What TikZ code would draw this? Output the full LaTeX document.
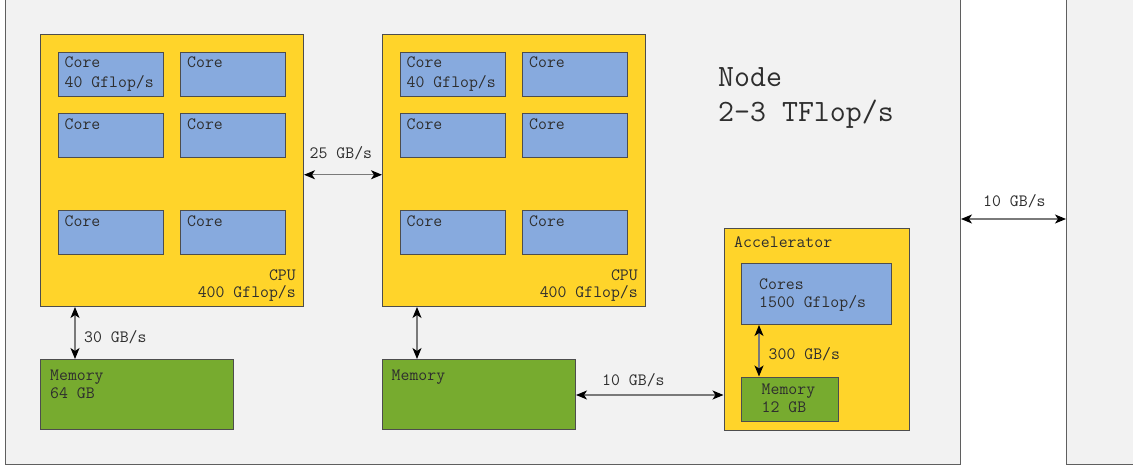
\documentclass[tikz,border=0pt]{standalone}
\usepackage{fontspec}
\usetikzlibrary{arrows.meta}
\definecolor{bgnode}{HTML}{F2F2F2}
\definecolor{cpuyel}{HTML}{FFD42A}
\definecolor{coreblue}{HTML}{87AADE}
\definecolor{memgreen}{HTML}{77AB2F}
\definecolor{txt}{HTML}{2E2E2E}
\definecolor{edge}{HTML}{4D4D4D}
\definecolor{arrline}{HTML}{7A7A7A}
\tikzset{
  box/.style={draw=edge, line width=1pt, anchor=north west, inner sep=0pt},
  nodebox/.style={box, fill=bgnode, draw=edge!90},
  cpubox/.style={box, fill=cpuyel},
  corebox/.style={box, fill=coreblue, minimum width=105pt, minimum height=44pt},
  membox/.style={box, fill=memgreen},
  lbl/.style={font=\ttfamily\fontsize{17.3}{19}\selectfont, text=txt, inner sep=0pt, align=left, anchor=base west},
  rlbl/.style={lbl, align=right, anchor=base east},
  biglbl/.style={font=\ttfamily\fontsize{31}{35}\selectfont, text=txt, inner sep=0pt, align=left, anchor=base west},
  link/.style={draw=arrline, line width=1.3pt, {Stealth[black,length=11pt,width=9pt,inset=3pt]}-{Stealth[black,length=11pt,width=9pt,inset=3pt]}}
}
\begin{document}
\begin{tikzpicture}[x=1pt,y=-1pt]
\useasboundingbox[fill=white] (0,0) rectangle (1133,468);
% compute nodes
\node[nodebox, minimum width=955pt, minimum height=464pt] (node1) at (5,-0.5) {};
\node[nodebox, minimum width=80pt, minimum height=464pt] (node2) at (1066,-0.5) {};
% CPUs
\node[cpubox, minimum width=263pt, minimum height=271.5pt] (cpu1) at (40,34.5) {};
\node[cpubox, minimum width=263pt, minimum height=271.5pt] (cpu2) at (382,34.5) {};
% cores CPU1
\node[corebox] (c11) at (57.5,52) {};
\node[corebox] (c12) at (180,52) {};
\node[corebox] (c13) at (57.5,113.5) {};
\node[corebox] (c14) at (180,113.5) {};
\node[corebox] (c15) at (57.5,210) {};
\node[corebox] (c16) at (180,210) {};
% cores CPU2
\node[corebox] (c21) at (399.5,52) {};
\node[corebox] (c22) at (522,52) {};
\node[corebox] (c23) at (399.5,113.5) {};
\node[corebox] (c24) at (522,113.5) {};
\node[corebox] (c25) at (399.5,210) {};
\node[corebox] (c26) at (522,210) {};
% core labels
\node[lbl] (t11) at (64.5,88) {Core\\[1pt]40 Gflop/s};
\node[lbl] (t12) at (187,68) {Core};
\node[lbl] (t13) at (64.5,129.5) {Core};
\node[lbl] (t14) at (187,129.5) {Core};
\node[lbl] (t15) at (64.5,226) {Core};
\node[lbl] (t16) at (187,226) {Core};
\node[lbl] (t21) at (406.5,88) {Core\\[1pt]40 Gflop/s};
\node[lbl] (t22) at (529,68) {Core};
\node[lbl] (t23) at (406.5,129.5) {Core};
\node[lbl] (t24) at (529,129.5) {Core};
\node[lbl] (t25) at (406.5,226) {Core};
\node[lbl] (t26) at (529,226) {Core};
\node[rlbl] (cpu1t) at (296,297) {CPU\\[-2pt]400 Gflop/s};
\node[rlbl] (cpu2t) at (638,297) {CPU\\[-2pt]400 Gflop/s};
% node label
\node[biglbl] (nodet) at (718,121.5) {Node\\2-3 TFlop/s};
% memories
\node[membox, minimum width=193pt, minimum height=70pt] (mem1) at (40,359) {};
\node[membox, minimum width=193pt, minimum height=70pt] (mem2) at (382,359) {};
\node[lbl] (mem1t) at (50,398) {Memory\\[-1pt]64 GB};
\node[lbl] (mem2t) at (391.5,380) {Memory};
% accelerator
\node[cpubox, minimum width=185pt, minimum height=201.5pt] (acc) at (723.5,228) {};
\node[lbl] (acct) at (734,247) {Accelerator};
\node[box, fill=coreblue, minimum width=149.5pt, minimum height=61.5pt] (acccores) at (741,262.5) {};
\node[lbl] (acccorest) at (759,307.5) {Cores\\[-1pt]1500 Gflop/s};
\node[membox, minimum width=97pt, minimum height=44pt] (accmem) at (741,376.5) {};
\node[lbl] (accmemt) at (761.5,412) {Memory\\[-1pt]12 GB};
% links
\draw[link] ([yshift=-4pt]cpu1.east) -- ([yshift=-4pt]cpu2.west);
\node[lbl] (l25) at (309.5,159) {25 GB/s};
\draw[link] ([xshift=35pt]cpu1.south west) -- ([xshift=35pt]mem1.north west);
\node[lbl] (l30) at (84,342.5) {30 GB/s};
\draw[link] ([xshift=35pt]cpu2.south west) -- ([xshift=35pt]mem2.north west);
\draw[link] ([yshift=35pt]mem2.south east) -- ([yshift=35pt]mem2.south east -| acc.west);
\node[lbl] (l10a) at (602,385) {10 GB/s};
\draw[link] ([xshift=18pt]acccores.south west) -- ([xshift=18pt]accmem.north west);
\node[lbl] (l300) at (768.5,359) {300 GB/s};
\draw[link] ([yshift=-219.5pt]node1.north east) -- ([yshift=-219.5pt]node2.north west);
\node[lbl] (l10b) at (983,207) {10 GB/s};
\end{tikzpicture}
\end{document}
